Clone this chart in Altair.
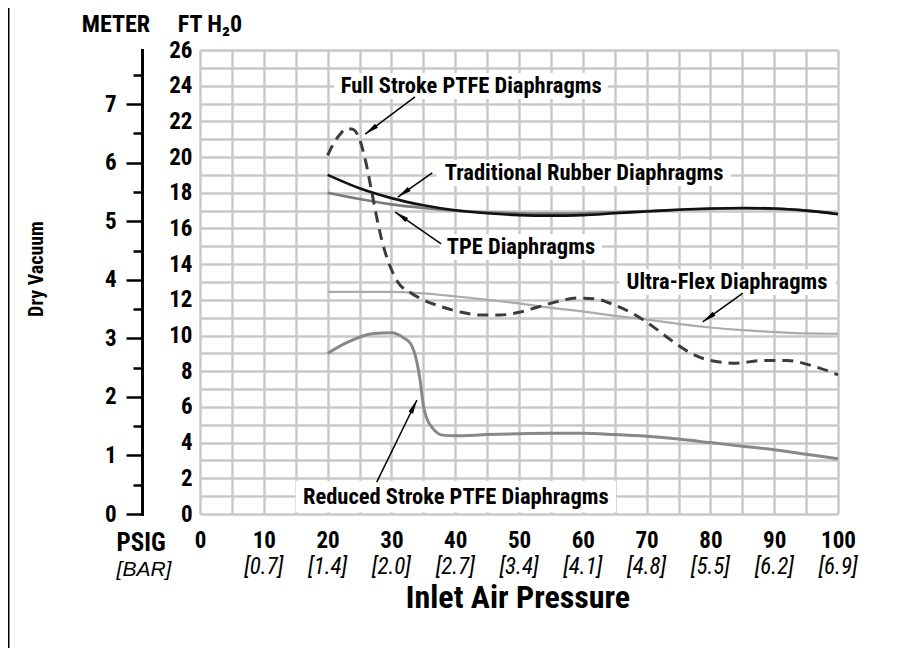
import math
import altair as alt
import pandas as pd

W, H = 638, 464
X_MAX, Y_MAX = 100, 26
FT_TO_M = 0.3048
FONT = "Liberation Sans Narrow, Roboto Condensed, DejaVu Sans Condensed, Arial Narrow, sans-serif"
WIDE = "Liberation Sans, Arial, sans-serif"

# ---- series data (psig, ft H2O) ----
trad_x = [20, 25, 30, 35, 40, 45, 50, 55, 60, 65, 70, 75, 80, 85, 90, 95, 100]
trad_y = [19.0, 18.25, 17.7, 17.3, 17.02, 16.85, 16.75, 16.72, 16.75, 16.85, 16.95, 17.05, 17.12, 17.15, 17.12, 17.0, 16.8]

tpe_x = [20, 25, 30, 35, 40, 45, 50, 55, 60, 65, 70, 75, 80, 85, 90, 95, 100]
tpe_y = [18.0, 17.65, 17.35, 17.15, 17.0, 16.9, 16.85, 16.83, 16.85, 16.9, 16.98, 17.05, 17.1, 17.12, 17.1, 17.0, 16.82]

fs_x = [20, 21, 22, 23, 24, 25, 26, 27, 28, 29, 30, 31, 33, 35, 38, 41, 44, 47, 50, 53, 56, 59, 62, 65, 68, 71, 74, 77, 80, 84, 88, 92, 96, 100]
fs_y = [20.1, 20.8, 21.3, 21.6, 21.55, 21.0, 19.7, 17.9, 16.1, 14.7, 13.7, 13.0, 12.4, 12.0, 11.6, 11.3, 11.15, 11.15, 11.3, 11.6, 11.9, 12.1, 12.05, 11.7, 11.2, 10.5, 9.7, 9.0, 8.6, 8.45, 8.6, 8.6, 8.3, 7.8]

uf_x = [20, 30, 40, 45, 50, 55, 60, 65, 70, 75, 80, 85, 90, 95, 100]
uf_y = [12.45, 12.45, 12.2, 12.0, 11.8, 11.55, 11.35, 11.1, 10.9, 10.65, 10.45, 10.3, 10.2, 10.12, 10.1]

rs_x = [20, 23, 27, 30, 32, 33, 34, 34.5, 35, 35.5, 36.5, 38, 40, 45, 50, 55, 60, 65, 70, 75, 80, 85, 90, 95, 100]
rs_y = [9.0, 9.6, 10.1, 10.15, 9.85, 9.55, 8.5, 7.5, 6.1, 5.4, 4.8, 4.42, 4.38, 4.45, 4.5, 4.52, 4.52, 4.45, 4.35, 4.2, 4.0, 3.8, 3.6, 3.35, 3.1]

series = [
    ("Ultra-Flex", uf_x, uf_y, "#ababab", 2.2, None),
    ("Reduced Stroke PTFE", rs_x, rs_y, "#888888", 3, None),
    ("TPE", tpe_x, tpe_y, "#7a7a7a", 2.6, None),
    ("Traditional Rubber", trad_x, trad_y, "#111111", 2.6, None),
    ("Full Stroke PTFE", fs_x, fs_y, "#3c3c3c", 3, [11, 7]),
]

# ---- axis tick labels ----
psig_ticks = [0, 10, 20, 30, 40, 50, 60, 70, 80, 90, 100]
bar_ticks = [10, 20, 30, 40, 50, 60, 70, 80, 90, 100]
bar_labels = ["[0.7]", "[1.4]", "[2.0]", "[2.7]", "[3.4]", "[4.1]", "[4.8]", "[5.5]", "[6.2]", "[6.9]"]
meter_major = [0, 1, 2, 3, 4, 5, 6, 7]
meter_minor = [0.5, 1.5, 2.5, 3.5, 4.5, 5.5, 6.5, 7.5]

# ---- annotations (data units) ----
ann_labels = ["Full Stroke PTFE Diaphragms", "Traditional Rubber Diaphragms", "TPE Diaphragms",
              "Ultra-Flex Diaphragms", "Reduced Stroke PTFE Diaphragms"]
ann_tx = [42.5, 60.2, 50.3, 82.6, 40.1]
ann_ty = [23.98, 19.11, 14.96, 13.0, 0.95]
box_x1 = [21.0, 37.1, 37.6, 65.7, 15.0]
box_x2 = [63.9, 83.2, 63.0, 99.7, 65.2]
box_y1 = [24.71, 19.84, 15.69, 13.73, 1.85]
box_y2 = [23.25, 18.38, 14.23, 12.27, 0.1]
arr_x1 = [33.7, 36.4, 37.8, 85.1, 27.7]
arr_y1 = [23.37, 19.11, 15.13, 12.38, 1.79]
arr_x2 = [25.9, 31.0, 30.6, 78.8, 34.0]
arr_y2 = [21.29, 17.76, 16.92, 10.76, 6.39]

rows = []
for name, xs, ys, *_ in series:
    for a, b in zip(xs, ys):
        rows.append({"series": name, "psig": a, "ft": b})
df = pd.DataFrame(rows)

angles = []
for a1, b1, a2, b2 in zip(arr_x1, arr_y1, arr_x2, arr_y2):
    dx = (a2 - a1) * W / X_MAX
    dy = -(b2 - b1) * H / Y_MAX
    angles.append(math.degrees(math.atan2(dx, -dy)) % 360)

ann = pd.DataFrame({
    "label": ann_labels, "tx": ann_tx, "ty": ann_ty,
    "bx1": box_x1, "bx2": box_x2, "by1": box_y1, "by2": box_y2,
    "ax1": arr_x1, "ay1": arr_y1, "ax2": arr_x2, "ay2": arr_y2, "angle": angles,
})

xscale = alt.Scale(domain=[0, X_MAX], nice=False, zero=False)
yscale = alt.Scale(domain=[0, Y_MAX], nice=False, zero=False)

x_axis = alt.Axis(values=list(range(0, 101, 5)), grid=True, gridColor="#c8c8c8", gridWidth=2.5,
                  domain=False, ticks=False, tickSize=0, title=None,
                  labelExpr="datum.value % 10 === 0 ? datum.label : ''",
                  labelFont=FONT, labelFontWeight="bold", labelFontSize=23, labelColor="#000",
                  labelPadding=15, labelOverlap=False, labelFlush=False)
y_axis = alt.Axis(orient="left", values=list(range(0, 27)), grid=True, gridColor="#c8c8c8", gridWidth=2.5,
                  domain=False, ticks=False, tickSize=0, title=None,
                  labelExpr="datum.value % 2 === 0 ? datum.label : ''",
                  labelFont=FONT, labelFontWeight="bold", labelFontSize=23, labelColor="#000",
                  labelPadding=8, labelOverlap=False, labelFlush=False)


def X(field):
    return alt.X(field, type="quantitative", scale=xscale, axis=x_axis)


def Y(field):
    return alt.Y(field, type="quantitative", scale=yscale, axis=y_axis)


layers = []
boxes = alt.Chart(ann).mark_rect(fill="white", stroke=None).encode(
    x=X("bx1"), x2="bx2", y=Y("by1"), y2="by2")
layers.append(boxes)

for name, xs, ys, color, sw, dash in series:
    kw = dict(color=color, strokeWidth=sw, interpolate="monotone")
    if dash:
        kw["strokeDash"] = dash
    layers.append(alt.Chart(df).transform_filter(alt.datum.series == name)
                  .mark_line(**kw).encode(x=X("psig"), y=Y("ft")))

texts = alt.Chart(ann).mark_text(font=FONT, fontWeight="bold", fontSize=22.5, color="#000",
                                 align="center", baseline="middle").encode(
    x=X("tx"), y=Y("ty"), text="label:N")
rules = alt.Chart(ann).mark_rule(color="#000", strokeWidth=1.5).encode(
    x=X("ax1"), y=Y("ay1"), x2="ax2", y2="ay2")
heads = alt.Chart(ann).mark_point(shape="M0,0L0.36,2L-0.36,2Z", size=196, filled=True,
                                  color="#000", opacity=1).encode(
    x=X("ax2"), y=Y("ay2"), angle=alt.Angle("angle:Q", scale=None))
layers += [texts, rules, heads]

bar_df = pd.DataFrame({"psig": bar_ticks, "lab": bar_labels})
bars = alt.Chart(bar_df).mark_text(font=FONT, fontStyle="italic", fontSize=23, color="#000",
                                   align="center", baseline="middle").encode(
    x=X("psig"), y=alt.value(H + 53), text="lab:N")
layers.append(bars)

one = pd.DataFrame({"k": [0]})


def label(txt, x, y, size, weight="bold", style="normal", angle=0, align="center", font=FONT):
    return alt.Chart(one).mark_text(text=txt, font=font, fontWeight=weight, fontStyle=style,
                                    fontSize=size, color="#000", angle=angle,
                                    align=align, baseline="middle").encode(
        x=alt.value(x), y=alt.value(y))


layers += [
    label("PSIG", -59, H + 29, 25),
    label("[BAR]", -56, H + 56, 21, weight="normal", style="italic", font=WIDE),
    label("Inlet Air Pressure", 318, H + 84, 32),
    label("METER", -84, -25, 24),
    label("FT H₂0", 10, -25, 24),
    label("Dry Vacuum", -163, 219, 20, angle=270),
]

edge = alt.Chart(one).mark_rule(color="#000", strokeWidth=2).encode(
    x=alt.value(-191.5), y=alt.value(-42), y2=alt.value(H + 134))
layers.append(edge)

main = alt.layer(*layers)

meter_df = pd.DataFrame({"m": [0, Y_MAX * FT_TO_M]})
mscale = alt.Scale(domain=[0, Y_MAX * FT_TO_M], nice=False, zero=False)
m_major = alt.Chart(meter_df).mark_point(opacity=0).encode(
    y=alt.Y("m:Q", scale=mscale, axis=alt.Axis(
        orient="left", offset=58, values=meter_major, grid=False, title=None,
        domain=True, domainColor="#000", domainWidth=3, domainCap="square",
        ticks=True, tickColor="#000", tickWidth=2.5, tickSize=16,
        labelFont=FONT, labelFontWeight="bold", labelFontSize=23, labelColor="#000",
        labelPadding=10, labelOverlap=False, labelFlush=False)))
m_minor = alt.Chart(meter_df).mark_point(opacity=0).encode(
    y=alt.Y("m:Q", scale=mscale, axis=alt.Axis(
        orient="left", offset=58, values=meter_minor, grid=False, title=None,
        domain=True, domainColor="#000", domainWidth=3,
        ticks=True, tickColor="#000", tickWidth=2.5, tickSize=9, labels=False)))

chart = alt.layer(main, m_major, m_minor).resolve_scale(y="independent").properties(
    width=W, height=H,
    autosize=alt.AutoSizeParams(type="none"),
    padding={"left": 192, "top": 42, "right": 60, "bottom": 134},
).configure_view(stroke=None)

chart.save("out.html", embed_options={"renderer": "svg", "actions": False})
